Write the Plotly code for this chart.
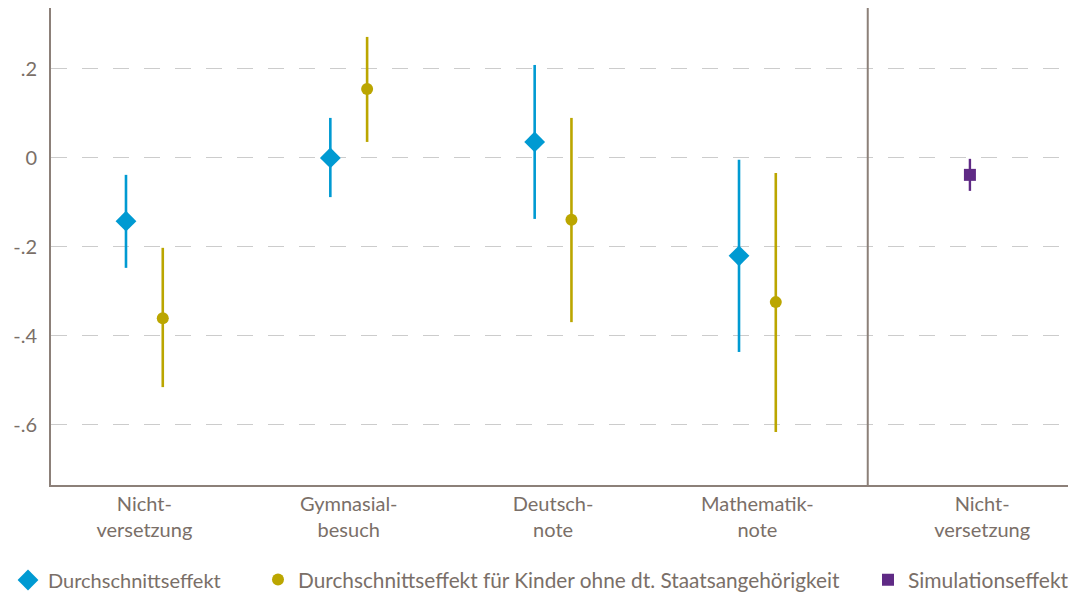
import plotly.graph_objects as go

categories = ["Nicht-<br>versetzung", "Gymnasial-<br>besuch", "Deutsch-<br>note", "Mathematik-<br>note"]
sim_category = "Nicht-<br>versetzung"

avg_effect = [-0.142, 0.000, 0.036, -0.220]
avg_low = [-0.247, -0.088, -0.137, -0.436]
avg_high = [-0.038, 0.090, 0.209, -0.004]

foreign_effect = [-0.360, 0.155, -0.139, -0.324]
foreign_low = [-0.515, 0.036, -0.369, -0.616]
foreign_high = [-0.202, 0.272, 0.090, -0.034]

sim_effect = [-0.038]
sim_low = [-0.074]
sim_high = [-0.002]

ytick_vals = [0.2, 0.0, -0.2, -0.4, -0.6]
ytick_text = [".2", "0", "-.2", "-.4", "-.6"]

BLUE = "#009ad2"
GOLD = "#bba600"
PURPLE = "#5f2a85"
AXIS = "#8c8079"
TEXT = "#7a6f68"
FONT = "Lato"
FS = 20

n = len(categories)
pos = [i + 1 for i in range(n)]
off = 0.09
sim_pos = n + 1.04

fig = go.Figure()

def add(name, xs, ys, lo, hi, color, symbol, size, width, legend):
    fig.add_trace(go.Scatter(
        x=xs, y=ys, mode="markers", name=name, legend=legend,
        marker=dict(symbol=symbol, size=size, color=color, line=dict(width=0)),
        error_y=dict(type="data", symmetric=False,
                     array=[h - y for h, y in zip(hi, ys)],
                     arrayminus=[y - l for l, y in zip(lo, ys)],
                     color=color, thickness=width, width=0),
    ))

add("Durchschnittseffekt", [p - off for p in pos], avg_effect, avg_low, avg_high, BLUE, "diamond", 16, 2.6, "legend")
add("Durchschnittseffekt für Kinder ohne dt. Staatsangehörigkeit", [p + off for p in pos],
    foreign_effect, foreign_low, foreign_high, GOLD, "circle", 12, 2.6, "legend2")
add("Simulationseffekt", [sim_pos], sim_effect, sim_low, sim_high, PURPLE, "square", 12, 2.4, "legend3")

fig.add_shape(type="line", xref="x", yref="paper", x0=n + 0.54, x1=n + 0.54, y0=0, y1=1,
              line=dict(color=AXIS, width=2))

def leg(x, fs):
    return dict(orientation="h", xref="container", yref="container", x=x, xanchor="left",
                y=(594 - 580) / 594, yanchor="middle", font=dict(size=fs, color=TEXT),
                bgcolor="rgba(0,0,0,0)")

fig.update_layout(
    width=1080, height=594,
    margin=dict(l=51, r=12, t=8, b=109, autoexpand=False),
    plot_bgcolor="white", paper_bgcolor="white",
    font=dict(family=FONT, size=FS, color=TEXT),
    showlegend=True,
    legend=leg(8 / 1080, 20),
    legend2=leg(258 / 1080, 20.8),
    legend3=leg(868 / 1080, 21),
    xaxis=dict(range=[0.543, n + 1.52], showgrid=False, zeroline=False, automargin=False,
               showline=True, linecolor=AXIS, linewidth=2,
               tickmode="array", tickvals=pos + [n + 1.1], ticktext=categories + [sim_category],
               ticks="", tickfont=dict(size=FS, color=TEXT)),
    yaxis=dict(range=[-0.735, 0.337], showgrid=True, gridcolor="#cccccc", gridwidth=1.3,
               griddash="16px,15px", zeroline=False, automargin=False,
               showline=True, linecolor=AXIS, linewidth=2,
               tickmode="array", tickvals=ytick_vals, ticktext=ytick_text,
               ticks="", ticklabelstandoff=8, tickfont=dict(size=FS, color=TEXT)),
)

fig.write_html("out.html", config={"displayModeBar": False},
               post_script="document.body.style.margin='0';")
